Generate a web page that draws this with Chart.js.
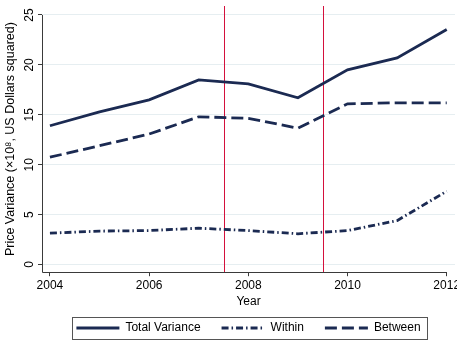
<!DOCTYPE html>
<html>
<head>
<meta charset="utf-8">
<script src="https://cdn.jsdelivr.net/npm/chart.js@4/dist/chart.umd.min.js"></script>
<style>
  html, body { margin: 0; padding: 0; background: #fff; }
  #wrap { width: 457px; height: 344px; }
</style>
</head>
<body>
<div id="wrap"><canvas id="c" width="457" height="344"></canvas></div>
<script>
// Price variance decomposition by year
const years = [2004, 2005, 2006, 2007, 2008, 2009, 2010, 2011, 2012];
const totalVariance = [13.9, 15.3, 16.5, 18.5, 18.1, 16.7, 19.5, 20.7, 23.55];
const withinVariance = [3.14, 3.35, 3.4, 3.64, 3.4, 3.08, 3.4, 4.4, 7.34];
const betweenVariance = [10.75, 11.9, 13.07, 14.8, 14.65, 13.66, 16.1, 16.2, 16.2];
const xTicks = [2004, 2006, 2008, 2010, 2012];
const yTicks = [0, 5, 10, 15, 20, 25];
const markerYears = [2007.5, 2009.5];

const navy = '#1b2a52';
const fontFamily = '"Liberation Sans", Arial, Helvetica, sans-serif';

function toPoints(values) {
  return years.map((yr, i) => ({ x: yr, y: values[i] }));
}

// Vertical marker lines, L-shaped axis lines over the tick range, legend frame
const overlayPlugin = {
  id: 'overlay',
  beforeDatasetsDraw(chart) {
    const { ctx, chartArea, scales } = chart;
    ctx.save();
    ctx.strokeStyle = '#d4103c';
    ctx.lineWidth = 1;
    markerYears.forEach(v => {
      const px = Math.round(scales.x.getPixelForValue(v)) + 0.5;
      ctx.beginPath();
      ctx.moveTo(px, chartArea.top);
      ctx.lineTo(px, chartArea.bottom);
      ctx.stroke();
    });
    ctx.restore();
  },
  afterDraw(chart) {
    const { ctx, chartArea, scales } = chart;
    ctx.save();
    ctx.strokeStyle = '#3a3a3a';
    ctx.lineWidth = 1;
    const left = Math.round(chartArea.left) + 0.5;
    const bottom = Math.round(chartArea.bottom) + 0.5;
    const yTop = scales.y.getPixelForValue(yTicks[yTicks.length - 1]);
    const xEnd = scales.x.getPixelForValue(xTicks[xTicks.length - 1]);
    ctx.beginPath();
    ctx.moveTo(left, yTop);
    ctx.lineTo(left, bottom);
    ctx.lineTo(xEnd, bottom);
    ctx.stroke();

    const boxes = chart.legend.legendHitBoxes;
    if (boxes && boxes.length) {
      const l = Math.min(...boxes.map(b => b.left)) - 4;
      const r = Math.max(...boxes.map(b => b.left + b.width)) + 7;
      const cy = boxes[0].top + boxes[0].height / 2;
      ctx.strokeStyle = '#555';
      ctx.strokeRect(Math.round(l) + 0.5, Math.round(cy - 11) + 0.5, Math.round(r - l), 22);
    }
    ctx.restore();
  }
};

new Chart(document.getElementById('c'), {
  type: 'line',
  data: {
    datasets: [
      {
        label: 'Total Variance',
        data: toPoints(totalVariance),
        borderColor: navy,
        backgroundColor: navy,
        borderWidth: 2.8,
        pointRadius: 0,
        tension: 0
      },
      {
        label: 'Within',
        data: toPoints(withinVariance),
        borderColor: navy,
        backgroundColor: navy,
        borderWidth: 2.8,
        borderDash: [7, 3, 1.5, 3],
        pointRadius: 0,
        tension: 0
      },
      {
        label: 'Between',
        data: toPoints(betweenVariance),
        borderColor: navy,
        backgroundColor: navy,
        borderWidth: 2.8,
        borderDash: [12, 5],
        pointRadius: 0,
        tension: 0
      }
    ]
  },
  options: {
    responsive: false,
    animation: false,
    devicePixelRatio: 1,
    layout: { padding: { left: 2, right: 2, top: 6, bottom: 0 } },
    plugins: {
      tooltip: { enabled: false },
      legend: {
        position: 'bottom',
        fullSize: false,
        labels: {
          usePointStyle: true,
          pointStyle: 'line',
          pointStyleWidth: 43,
          padding: 21,
          color: '#000',
          font: { family: fontFamily, size: 12 },
          generateLabels: chart => {
            const items = Chart.defaults.plugins.legend.labels.generateLabels(chart);
            items.forEach(it => {
              const ds = chart.data.datasets[it.datasetIndex];
              it.lineDash = ds.borderDash || [];
              it.lineWidth = ds.borderWidth;
              it.strokeStyle = ds.borderColor;
              it.pointStyle = 'line';
            });
            return items;
          }
        }
      }
    },
    scales: {
      x: {
        type: 'linear',
        min: 2003.84,
        max: 2012.167,
        afterBuildTicks: s => { s.ticks = xTicks.map(v => ({ value: v })); },
        afterFit: s => { s.paddingLeft = 0; s.paddingRight = 0; },
        ticks: {
          color: '#000',
          font: { family: fontFamily, size: 12 },
          padding: 2,
          maxRotation: 0,
          callback: v => String(v)
        },
        grid: {
          drawOnChartArea: false,
          tickLength: 4,
          tickColor: '#3a3a3a'
        },
        border: { display: false },
        title: {
          display: true,
          text: 'Year',
          color: '#000',
          font: { family: fontFamily, size: 12 },
          padding: { top: 0, bottom: -8 }
        }
      },
      y: {
        min: -0.77,
        max: 25.9,
        afterBuildTicks: s => { s.ticks = yTicks.map(v => ({ value: v })); },
        afterFit: s => { s.paddingTop = 0; s.paddingBottom = 0; },
        ticks: {
          color: '#000',
          font: { family: fontFamily, size: 12 },
          padding: 1.3,
          crossAlign: 'center',
          minRotation: 90,
          maxRotation: 90,
          callback: v => String(v)
        },
        grid: {
          color: '#e6eef1',
          lineWidth: 1,
          tickLength: 4,
          tickColor: '#3a3a3a'
        },
        border: { display: false },
        title: {
          display: true,
          text: 'Price Variance (\u00d710\u2078, US Dollars squared)',
          color: '#000',
          font: { family: fontFamily, size: 12.5 },
          padding: { top: 1, bottom: 3 }
        }
      }
    }
  },
  plugins: [overlayPlugin]
});
</script>
</body>
</html>
